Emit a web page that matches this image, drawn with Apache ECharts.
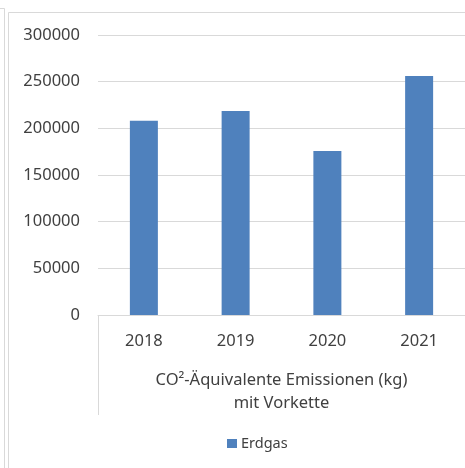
<!DOCTYPE html>
<html><head><meta charset="utf-8">
<script src="https://cdn.jsdelivr.net/npm/echarts@6/dist/echarts.min.js"></script>
<style>html,body{margin:0;padding:0;background:#fff}#c{width:465px;height:468px}</style>
</head><body><div id="c"></div>
<script>
const categories = ['2018', '2019', '2020', '2021'];
const erdgas = [208200, 218600, 175700, 256100];
const seriesName = 'Erdgas';
const axisTitle = 'CO²-Äquivalente Emissionen (kg)\nmit Vorkette';

const FONT = 'Noto Sans';
const TXT = '#404040';
const GRID = '#d9d9d9';
const chart = echarts.init(document.getElementById('c'), null, {renderer: 'canvas'});
chart.setOption({
  animation: false,
  backgroundColor: '#fff',
  textStyle: {fontFamily: FONT, color: TXT},
  grid: {left: 98, top: 35, width: 370, height: 280},
  legend: {
    data: [seriesName], left: 222, top: 431, icon: 'rect', itemWidth: 10, itemHeight: 9, itemGap: 4,
    textStyle: {fontFamily: FONT, fontSize: 14.5, color: TXT, padding: [0, 0, 0, -1]}
  },
  xAxis: {
    type: 'category', data: categories,
    axisLine: {show: true, lineStyle: {color: GRID, width: 1}},
    axisTick: {show: false},
    axisLabel: {fontFamily: FONT, fontSize: 16.5, color: TXT, margin: 18},
    name: axisTitle, nameLocation: 'middle', nameGap: 54,
    nameTextStyle: {fontFamily: FONT, fontSize: 16.5, color: TXT, lineHeight: 23, align: 'center'}
  },
  yAxis: {
    type: 'value', min: 0, max: 300000, interval: 50000,
    axisLine: {show: false}, axisTick: {show: false},
    axisLabel: {fontFamily: FONT, fontSize: 16.5, color: TXT, margin: 18, formatter: v => String(v)},
    splitLine: {lineStyle: {color: GRID, width: 1}}
  },
  series: [{
    name: seriesName, type: 'bar', data: erdgas, barWidth: 28,
    itemStyle: {color: '#4f81bd'}
  }],
  graphic: [
    {type: 'rect', shape: {x: 8.5, y: 12.5, width: 500, height: 500}, style: {fill: null, stroke: GRID, lineWidth: 1}, silent: true, z: -1},
    {type: 'polyline', shape: {points: [[0, 8.5], [4.5, 8.5], [4.5, 470]]}, style: {fill: null, stroke: GRID, lineWidth: 1}, silent: true, z: -1},
    {type: 'line', shape: {x1: 98.5, y1: 315, x2: 98.5, y2: 415}, style: {stroke: GRID, lineWidth: 1}, silent: true}
  ]
});
</script></body></html>
